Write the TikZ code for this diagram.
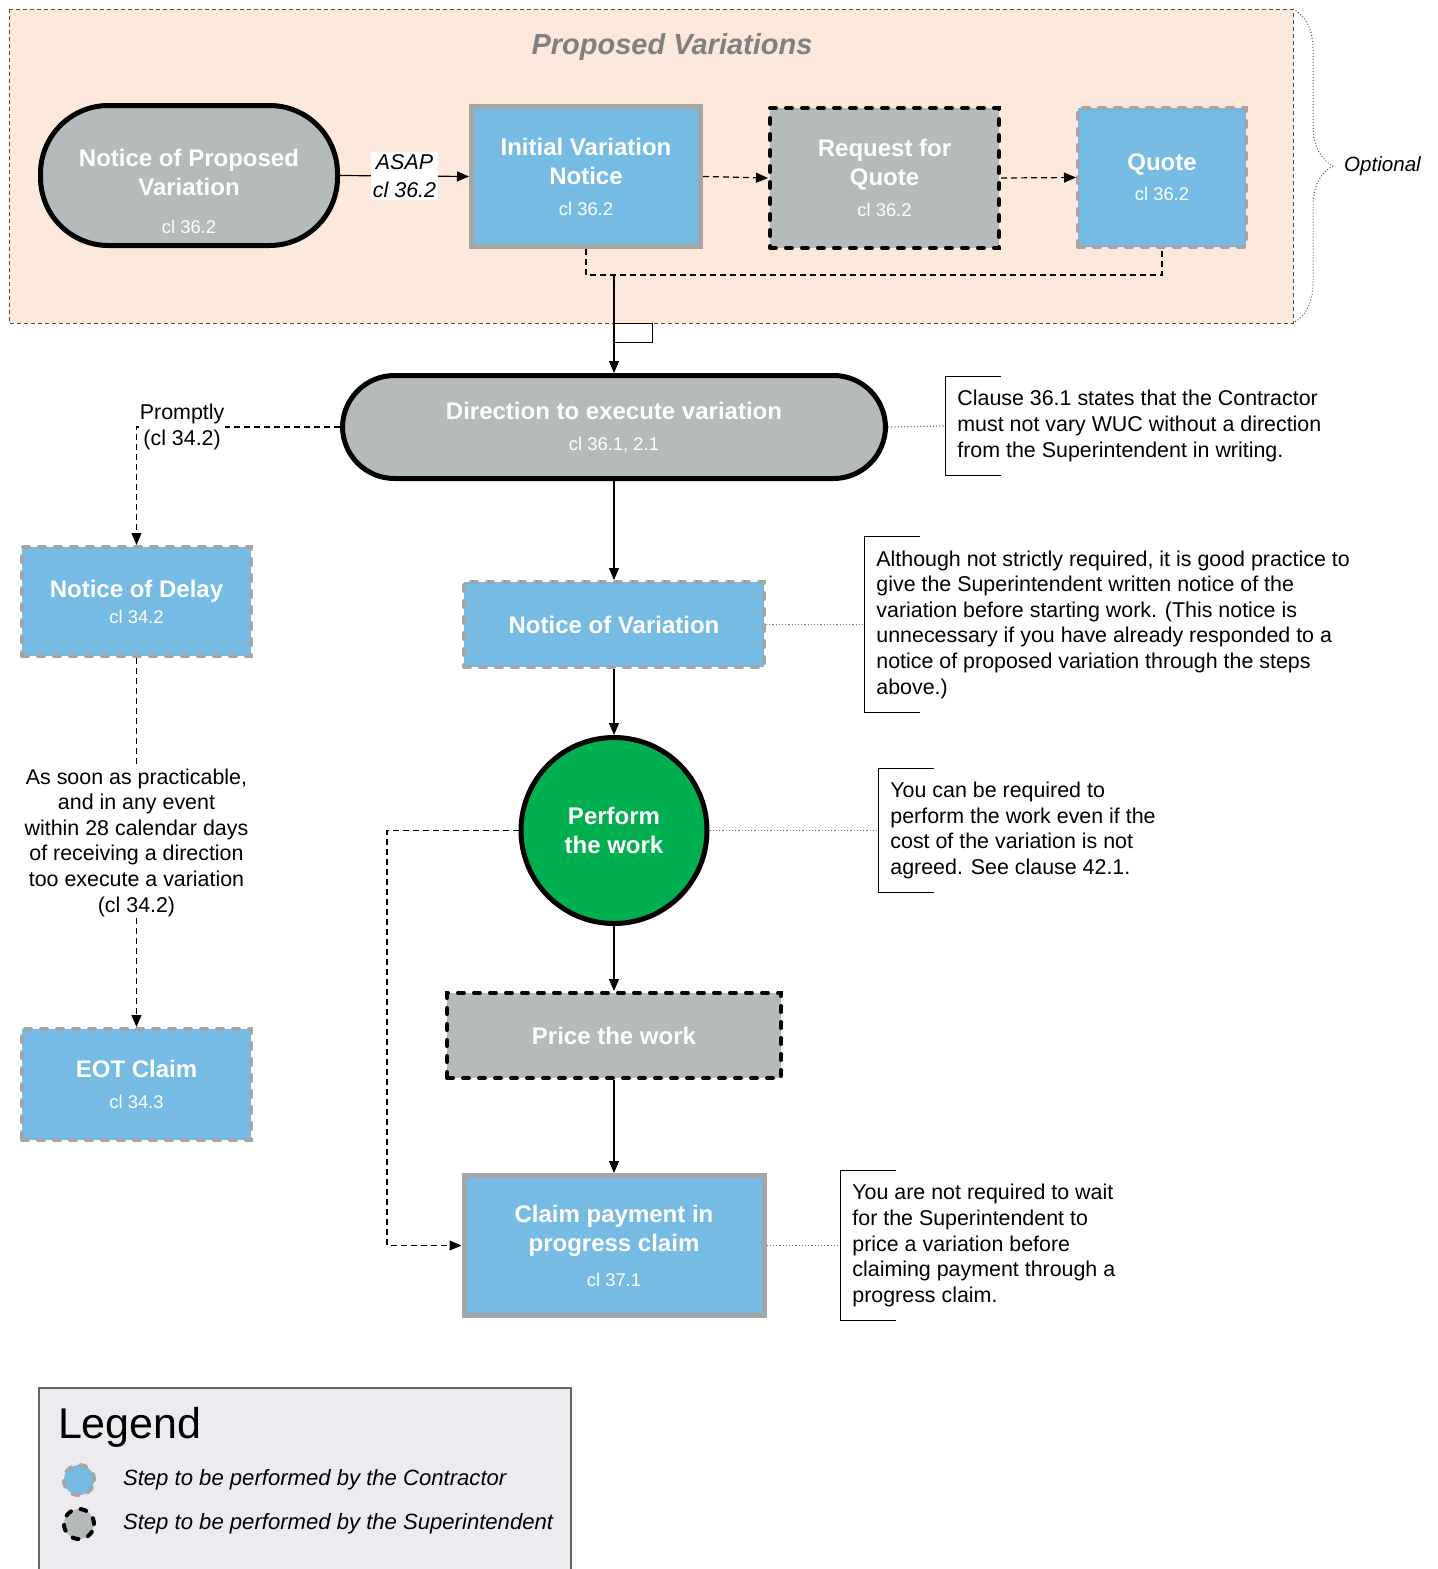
\documentclass[tikz,border=0pt]{standalone}
\usepackage{fontspec}
\setmainfont{Liberation Sans}
\usetikzlibrary{arrows.meta,decorations.pathreplacing}

\definecolor{stepblue}{HTML}{75BBE3}
\definecolor{stepgray}{HTML}{B5BABB}
\definecolor{edgegray}{HTML}{A5A5A5}
\definecolor{peach}{HTML}{FCE9DB}
\definecolor{workgreen}{HTML}{00AF50}
\definecolor{legendfill}{HTML}{EDEAF0}

% clause reference line under a step title
\newcommand{\clref}[2][1pt]{\\[#1]{\fontsize{9.2}{11}\selectfont\mdseries #2}}

\tikzset{
    box/.style={rectangle, align=center, text=white, inner sep=2pt,
        font=\fontsize{12}{14.5}\selectfont\bfseries},
    contractor/.style={box, fill=stepblue, draw=edgegray, line width=2pt,
        dash pattern=on 3pt off 5pt, line cap=round},
    superint/.style={box, fill=stepgray, draw=black, line width=2pt,
        dash pattern=on 3pt off 5pt, line cap=round},
    solidcon/.style={box, fill=stepblue, draw=edgegray, line width=2.5pt},
    stadium/.style={box, fill=stepgray, draw=black, line width=2.5pt, rounded corners=#1},
    note/.style={anchor=west, align=left, inner xsep=6pt},
    notebracket/.style={draw=black, line width=0.5pt},
    notelink/.style={draw=black!55, densely dotted, line width=0.6pt},
    flow/.style={->, line width=0.6pt},
    optflow/.style={->, dash pattern=on 3pt off 2pt, line width=0.6pt},
}

\begin{document}
\begin{tikzpicture}[x=0.5pt, y=-0.5pt, >={Triangle[length=6pt,width=5pt]},
        font=\fontsize{10.7}{12.8}\selectfont]
    \useasboundingbox (0,0) rectangle (1438,1569);

    % proposed variations
    \draw[fill=peach, draw=black!70, dash pattern=on 2pt off 1.5pt, line width=0.5pt] (9,9) rectangle (1293,323);
    \node[font=\fontsize{14.5}{17}\selectfont\bfseries\itshape, text=black!50] (regiontitle) at (672,47) {Proposed Variations};
    \draw[decorate, decoration={brace, amplitude=20pt}, draw=black!65, densely dotted, line width=0.5pt] (1293,9) -- (1293,323);
    \node[anchor=west, font=\fontsize{10.3}{12}\selectfont\itshape] (optional) at (1337,166) {Optional};

    \node[stadium=34pt, minimum width=148.5pt, minimum height=70pt] (npv) at (189,175.5) {};
    \node[box] (npvtext) at (189,191) {Notice of Proposed\\Variation\clref[4.5pt]{cl 36.2}};
    \node[solidcon, minimum width=114.5pt, minimum height=70pt] (ivn) at (586,176.5) {Initial Variation\\Notice\clref{cl 36.2}};
    \node[superint, minimum width=114.5pt, minimum height=70pt] (rfq) at (884.5,178) {Request for\\Quote\clref{cl 36.2}};
    \node[contractor, minimum width=84pt, minimum height=69.5pt] (quote) at (1162,177.5) {Quote\clref[0.5pt]{cl 36.2}};

    \draw[flow] (npv.east) -- node[fill=white, inner sep=1pt, align=center, font=\fontsize{10.7}{14}\selectfont\itshape] (asap) {ASAP\\cl 36.2} (ivn.west);
    \draw[optflow] (ivn.east) -- (rfq.west);
    \draw[optflow] (rfq.east) -- (quote.west);
    \coordinate (merge) at (614,275);
    \draw[dash pattern=on 3pt off 2pt, line width=0.6pt] (ivn.south) |- (merge) -| (quote.south);

    % main flow
    \node[stadium=26pt, minimum width=271.5pt, minimum height=51.5pt] (dir) at (614,427) {Direction to execute variation\clref{cl 36.1, 2.1}};
    \node[contractor, minimum width=150pt, minimum height=42.5pt] (nov) at (614,624.5) {Notice of Variation};
    \node[circle, fill=workgreen, draw=black, line width=2.5pt, minimum size=93pt, align=center, text=white,
        font=\fontsize{12}{14.5}\selectfont\bfseries] (work) at (614,830.5) {Perform\\the work};
    \node[superint, minimum width=167pt, minimum height=42.5pt] (price) at (614,1035.5) {Price the work};
    \node[solidcon, minimum width=150pt, minimum height=70pt] (claim) at (614,1245.5) {Claim payment in\\progress claim\clref[3pt]{cl 37.1}};

    \draw[flow] (merge) -- (dir.north);
    \draw[line width=0.5pt] (614,323) -- (652,323) -- (652,342) -- (614,342);
    \draw[flow] (dir.south) -- (nov.north);
    \draw[flow] (nov.south) -- (work.north);
    \draw[flow] (work.south) -- (price.north);
    \draw[flow] (price.south) -- (claim.north);
    \coordinate (lane) at (387,830.5);
    \draw[optflow] (work.west) -- (lane) |- (claim.west);

    % delay branch
    \node[contractor, minimum width=114.5pt, minimum height=54.5pt] (delay) at (136.5,601.5) {Notice of Delay\clref[-1.5pt]{cl 34.2}};
    \node[contractor, minimum width=114.5pt, minimum height=55.5pt] (eot) at (136.5,1084.5) {EOT Claim\clref{cl 34.3}};
    \coordinate (bend) at (delay.north |- dir.west);
    \draw[optflow] (dir.west) -| (delay.north);
    \node[fill=white, inner xsep=0.5pt, inner ysep=1pt, anchor=west, align=center] (promptly) at ([xshift=1pt]bend) {Promptly\\(cl 34.2)};
    \draw[optflow] (delay.south) -- node[fill=white, inner sep=1pt, align=center] (asp) {As soon as practicable,\\and in any event\\within 28 calendar days\\of receiving a direction\\too execute a variation\\(cl 34.2)} (eot.north);

    % notes
    \node[note, minimum height=49pt] (n1) at (945,426) {Clause 36.1 states that the Contractor\\must not vary WUC without a direction\\from the Superintendent in writing.};
    \node[note, minimum height=87.5pt] (n2) at (864,624.5) {Although not strictly required, it is good practice to\\give the Superintendent written notice of the\\variation before starting work. (This notice is\\unnecessary if you have already responded to a\\notice of proposed variation through the steps\\above.)};
    \node[note, minimum height=61.5pt] (n3) at (878,830.5) {You can be required to\\perform the work even if the\\cost of the variation is not\\agreed. See clause 42.1.};
    \node[note, minimum height=74.5pt] (n4) at (840,1245.5) {You are not required to wait\\for the Superintendent to\\price a variation before\\claiming payment through a\\progress claim.};
    \foreach \n in {n1,n2,n3,n4}
        \draw[notebracket] ([xshift=28pt]\n.north west) -| (\n.south west) -- ++(28pt,0);
    \draw[notelink] (dir.east) -- (n1.west);
    \draw[notelink] (nov.east) -- (n2.west);
    \draw[notelink] (work.east) -- (n3.west);
    \draw[notelink] (claim.east) -- (n4.west);

    % legend
    \draw[fill=legendfill, draw=black!60, line width=0.6pt] (39,1388) rectangle (571,1600);
    \node[anchor=west, font=\fontsize{21.5}{25}\selectfont] (legendtitle) at (51,1427) {Legend};
    \node[circle, minimum size=15pt, fill=stepblue, draw=edgegray, line width=2pt, dash pattern=on 3pt off 5pt, line cap=round] (keycon) at (79,1480) {};
    \node[circle, minimum size=15pt, fill=stepgray, draw=black, line width=2pt, dash pattern=on 3pt off 5pt, line cap=round] (keysup) at (79,1524) {};
    \node[anchor=west, font=\fontsize{11.05}{13}\selectfont\itshape] (keycontext) at (116,1480) {Step to be performed by the Contractor};
    \node[anchor=west, font=\fontsize{11.05}{13}\selectfont\itshape] (keysuptext) at (116,1524) {Step to be performed by the Superintendent};
\end{tikzpicture}
\end{document}
